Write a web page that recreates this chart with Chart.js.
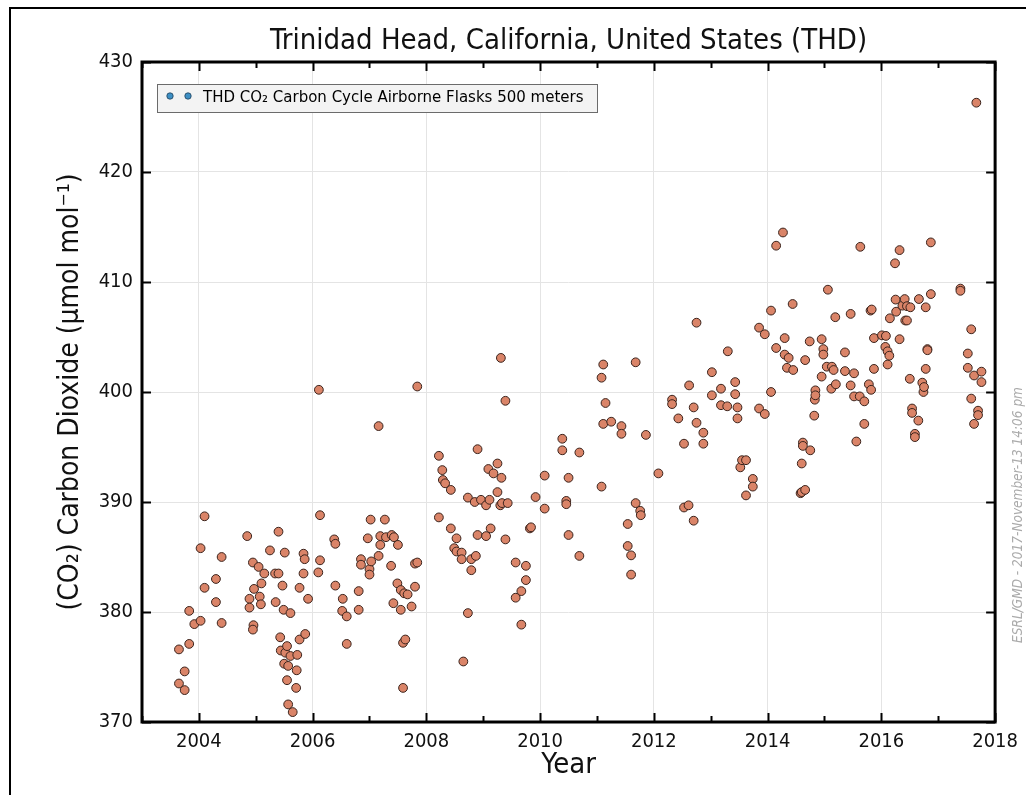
<!DOCTYPE html>
<html>
<head>
<meta charset="utf-8">
<title>Trinidad Head CO2</title>
<script src="https://cdn.jsdelivr.net/npm/chart.js@4.4.1/dist/chart.umd.min.js"></script>
<style>
  html, body { margin: 0; padding: 0; background: #ffffff; }
  #wrap { position: relative; width: 1026px; height: 795px; }
  canvas { display: block; }
</style>
</head>
<body>
<div id="wrap"><canvas id="chart" width="1026" height="795"></canvas></div>
<script>
// Flask sample dates (decimal year) and CO2 mole fractions (µmol/mol)
const sampleDates = [
  2003.65, 2003.65, 2003.75, 2003.75, 2003.83, 2003.83, 2003.92, 2004.03, 2004.03, 2004.10,
  2004.10, 2004.30, 2004.30, 2004.40, 2004.40, 2004.85, 2004.89, 2004.89, 2004.95, 2004.96,
  2004.95, 2004.97, 2005.05, 2005.07, 2005.09, 2005.10, 2005.15, 2005.25, 2005.34, 2005.35,
  2005.40, 2005.40, 2005.43, 2005.44, 2005.47, 2005.49, 2005.50, 2005.51, 2005.52, 2005.55,
  2005.55, 2005.57, 2005.57, 2005.61, 2005.61, 2005.65, 2005.71, 2005.72, 2005.73, 2005.77,
  2005.77, 2005.84, 2005.84, 2005.86, 2005.87, 2005.92, 2006.10, 2006.11, 2006.13, 2006.13,
  2006.38, 2006.40, 2006.40,
  2006.53, 2006.52, 2006.60, 2006.60, 2006.81, 2006.81, 2006.85, 2006.85, 2006.97, 2007.00,
  2007.00, 2007.02, 2007.03, 2007.16, 2007.16, 2007.19, 2007.19, 2007.27, 2007.29, 2007.38,
  2007.39, 2007.42, 2007.43, 2007.49, 2007.50, 2007.55, 2007.55, 2007.59, 2007.59, 2007.61,
  2007.63, 2007.67, 2007.74, 2007.80, 2007.80, 2007.84, 2007.84,
  2008.22, 2008.22, 2008.28, 2008.29, 2008.33, 2008.43, 2008.43, 2008.49, 2008.53, 2008.53,
  2008.62, 2008.62, 2008.65, 2008.73, 2008.73, 2008.79, 2008.79, 2008.85, 2008.87, 2008.90,
  2008.90, 2008.96, 2009.05, 2009.05, 2009.09, 2009.11, 2009.13, 2009.18, 2009.25, 2009.25,
  2009.30, 2009.32, 2009.33, 2009.39, 2009.39, 2009.43, 2009.57, 2009.57, 2009.31,
  2009.67, 2009.67, 2009.75, 2009.75, 2009.82, 2009.84, 2009.92,
  2010.08, 2010.08, 2010.39, 2010.39, 2010.46, 2010.46, 2010.50, 2010.50, 2010.69, 2010.69,
  2011.08, 2011.08, 2011.11, 2011.11, 2011.15, 2011.25, 2011.43, 2011.43, 2011.54, 2011.54,
  2011.60, 2011.60, 2011.68, 2011.68, 2011.76, 2011.77, 2011.86,
  2012.08, 2012.32, 2012.32, 2012.43, 2012.53, 2012.53, 2012.61, 2012.62, 2012.70, 2012.70,
  2012.75, 2012.75, 2012.87, 2012.87,
  2013.02, 2013.02, 2013.18, 2013.18, 2013.29, 2013.30, 2013.43, 2013.43, 2013.47, 2013.47,
  2013.52, 2013.55, 2013.62, 2013.62, 2013.74, 2013.74, 2013.85, 2013.85, 2013.95, 2013.95,
  2014.06, 2014.06, 2014.15, 2014.15, 2014.27, 2014.30, 2014.30, 2014.34, 2014.37, 2014.44,
  2014.45, 2014.58, 2014.60, 2014.60, 2014.62, 2014.62, 2014.66, 2014.66, 2014.74, 2014.75,
  2014.82, 2014.83, 2014.84, 2014.84, 2014.95, 2014.95, 2014.98, 2014.98,
  2015.04, 2015.06, 2015.12, 2015.13, 2015.16, 2015.19, 2015.20, 2015.36, 2015.36, 2015.46,
  2015.46, 2015.52, 2015.52, 2015.56, 2015.62, 2015.63, 2015.70, 2015.70, 2015.78, 2015.81,
  2015.82, 2015.83, 2015.87, 2015.87,
  2016.01, 2016.07, 2016.08, 2016.11, 2016.11, 2016.14, 2016.15, 2016.24, 2016.25, 2016.26,
  2016.32, 2016.32, 2016.37, 2016.41, 2016.42, 2016.45, 2016.45, 2016.50, 2016.51, 2016.54,
  2016.54, 2016.59, 2016.59, 2016.65, 2016.66, 2016.72, 2016.74, 2016.75, 2016.78, 2016.78,
  2016.81, 2016.81, 2016.87, 2016.87,
  2017.39, 2017.39, 2017.52, 2017.52, 2017.58, 2017.58, 2017.63, 2017.63, 2017.67, 2017.70,
  2017.70, 2017.76, 2017.76
];

const co2Values = [
  376.6, 373.5, 374.6, 372.9, 377.1, 380.1, 378.9, 379.2, 385.8, 382.2,
  388.7, 383.0, 380.9, 385.0, 379.0, 386.9, 381.2, 380.4, 384.5, 378.8,
  378.4, 382.1, 384.1, 381.4, 380.7, 382.6, 383.5, 385.6, 383.5, 380.9,
  387.3, 383.5, 377.7, 376.5, 382.4, 380.2, 375.3, 385.4, 376.3, 376.9,
  373.8, 375.1, 371.6, 379.9, 376.0, 370.9, 373.1, 374.7, 376.1, 382.2,
  377.5, 385.3, 383.5, 384.8, 378.0, 381.2, 383.6, 400.2, 388.8, 384.7,
  386.6, 386.2, 382.4,
  381.2, 380.1, 379.6, 377.1, 381.9, 380.2, 384.8, 384.3, 386.7, 383.9,
  383.4, 388.4, 384.6, 385.1, 396.9, 386.9, 386.1, 388.4, 386.8, 384.2,
  387.0, 380.8, 386.8, 382.6, 386.1, 382.0, 380.2, 377.2, 373.1, 381.7,
  377.5, 381.6, 380.5, 382.3, 384.4, 384.5, 400.5,
  394.2, 388.6, 392.9, 392.0, 391.7, 391.1, 387.6, 385.8, 386.7, 385.5,
  385.4, 384.8, 375.5, 390.4, 379.9, 384.8, 383.8, 390.0, 385.1, 394.8,
  387.0, 390.2, 389.7, 386.9, 393.0, 390.2, 387.6, 392.6, 393.5, 390.9,
  389.7, 392.2, 389.9, 399.2, 386.6, 389.9, 384.5, 381.3, 403.1,
  381.9, 378.85, 384.2, 382.9, 387.6, 387.7, 390.45,
  392.4, 389.4, 395.75, 394.7, 390.1, 389.8, 392.2, 387.0, 394.5, 385.1,
  401.3, 391.4, 402.5, 397.1, 399.0, 397.3, 396.9, 396.2, 388.0, 386.0,
  385.15, 383.4, 402.7, 389.9, 389.2, 388.8, 396.1,
  392.6, 399.3, 398.9, 397.6, 395.3, 389.5, 389.7, 400.6, 398.6, 388.3,
  406.3, 397.2, 396.3, 395.3,
  401.8, 399.7, 400.3, 398.8, 398.7, 403.7, 400.9, 399.8, 398.6, 397.6,
  393.15, 393.8, 393.8, 390.6, 392.1, 391.4, 405.85, 398.5, 405.25, 398.0,
  407.4, 400.0, 413.3, 404.0, 414.5, 404.9, 403.4, 402.2, 403.1, 408.0,
  402.0, 390.8, 393.5, 390.9, 395.4, 395.1, 402.9, 391.1, 404.6, 394.7,
  397.85, 399.3, 400.15, 399.7, 404.8, 401.4, 403.9, 403.4,
  402.3, 409.3, 400.3, 402.3, 402.0, 406.8, 400.7, 403.6, 401.9, 407.1,
  400.6, 401.7, 399.6, 395.5, 399.6, 413.2, 399.15, 397.1, 400.7, 407.4,
  400.2, 407.5, 404.9, 402.1,
  405.15, 404.1, 405.1, 403.7, 402.5, 403.3, 406.7, 411.7, 408.4, 407.3,
  412.9, 404.8, 407.85, 408.45, 406.5, 407.8, 406.5, 401.2, 407.7, 398.5,
  398.1, 396.2, 395.9, 397.4, 408.45, 400.85, 400.0, 400.45, 407.7, 402.1,
  403.9, 403.8, 413.6, 408.9,
  409.4, 409.2, 403.5, 402.2, 405.7, 399.4, 401.5, 397.1, 426.3, 398.3,
  397.9, 401.85, 400.9
];

// Axis tick labels
const xTickYears = [2004, 2006, 2008, 2010, 2012, 2014, 2016, 2018];
const yTickValues = [370, 380, 390, 400, 410, 420, 430];

const chartTitle = 'Trinidad Head, California, United States (THD)';
const seriesLabel = 'THD CO\u2082 Carbon Cycle Airborne Flasks 500 meters';
const xAxisTitle = 'Year';
const yAxisTitle = '(CO\u2082) Carbon Dioxide (\u03bcmol mol\u207b\u00b9)';
const stampText = 'ESRL/GMD - 2017-November-13 14:06 pm';

const FONT = '"DejaVu Sans Condensed", "DejaVu Sans", sans-serif';
const FONT_WIDE = '"DejaVu Sans", sans-serif';

// Title, frame, inward ticks, legend box and time stamp
const decorations = {
  id: 'decorations',
  afterDraw(chart) {
    const { ctx, chartArea: a, scales: { x, y } } = chart;
    ctx.save();

    // title centred over the plotting area
    ctx.fillStyle = '#111';
    ctx.font = '29px ' + FONT;
    ctx.textAlign = 'center';
    ctx.textBaseline = 'middle';
    ctx.fillText(chartTitle, (a.left + a.right) / 2, 41);

    // figure outline
    ctx.strokeStyle = '#000';
    ctx.lineWidth = 2;
    ctx.beginPath();
    ctx.moveTo(10, 795);
    ctx.lineTo(10, 8);
    ctx.lineTo(1026, 8);
    ctx.stroke();

    // inward ticks on all four sides
    ctx.lineWidth = 2;
    ctx.beginPath();
    for (let yr = Math.ceil(x.min); yr <= x.max; yr++) {
      const px = Math.round(x.getPixelForValue(yr)) + 0.5;
      const len = xTickYears.includes(yr) ? 9 : 6;
      ctx.moveTo(px, a.bottom); ctx.lineTo(px, a.bottom - len);
      ctx.moveTo(px, a.top); ctx.lineTo(px, a.top + len);
    }
    for (const v of yTickValues) {
      const py = Math.round(y.getPixelForValue(v)) + 0.5;
      ctx.moveTo(a.left, py); ctx.lineTo(a.left + 9, py);
      ctx.moveTo(a.right, py); ctx.lineTo(a.right - 9, py);
    }
    ctx.stroke();

    // plot frame
    ctx.lineWidth = 3;
    ctx.strokeRect(a.left, a.top, a.right - a.left, a.bottom - a.top);

    // legend
    const lx = a.left + 15, ly = a.top + 22, lw = 440, lh = 28;
    ctx.fillStyle = '#f3f3f3';
    ctx.fillRect(lx, ly, lw, lh);
    ctx.strokeStyle = '#6b6b6b';
    ctx.lineWidth = 1;
    ctx.strokeRect(lx + 0.5, ly + 0.5, lw, lh);
    for (const dx of [13, 31]) {
      ctx.beginPath();
      ctx.arc(lx + dx, ly + 12, 3.2, 0, Math.PI * 2);
      ctx.fillStyle = '#3d8fc4';
      ctx.fill();
      ctx.strokeStyle = '#20405a';
      ctx.lineWidth = 0.8;
      ctx.stroke();
    }
    ctx.fillStyle = '#000';
    ctx.font = '15px ' + FONT_WIDE;
    ctx.textBaseline = 'middle';
    ctx.textAlign = 'left';
    ctx.fillText(chart.data.datasets[0].label, lx + 46, ly + 14);

    // time stamp along the right margin
    ctx.translate(1018, 515);
    ctx.rotate(-Math.PI / 2);
    ctx.fillStyle = '#ababab';
    ctx.font = 'italic 13.5px ' + FONT;
    ctx.textAlign = 'center';
    ctx.fillText(stampText, 0, 0);
    ctx.restore();
  }
};

new Chart(document.getElementById('chart'), {
  type: 'scatter',
  data: {
    datasets: [{
      label: seriesLabel,
      data: sampleDates.map((d, i) => ({ x: d, y: co2Values[i] })),
      backgroundColor: '#da8468',
      borderColor: '#3a231c',
      borderWidth: 1,
      pointRadius: 4.4,
      pointHoverRadius: 4.4
    }]
  },
  options: {
    responsive: false,
    animation: false,
    devicePixelRatio: 1,
    layout: { padding: { left: 54, right: 29, top: 62, bottom: 12 } },
    plugins: {
      legend: { display: false },
      tooltip: { enabled: false },
      title: { display: false }
    },
    scales: {
      x: {
        type: 'linear',
        min: 2003,
        max: 2018,
        afterBuildTicks: s => { s.ticks = xTickYears.map(v => ({ value: v })); },
        afterFit: s => { s.height = 61; },
        ticks: {
          callback: v => String(v),
          color: '#111',
          font: { family: FONT, size: 20 },
          padding: 8,
          maxRotation: 0
        },
        grid: { color: '#e4e4e4', lineWidth: 1, drawTicks: false },
        border: { display: false },
        title: {
          display: true,
          text: xAxisTitle,
          color: '#111',
          font: { family: FONT, size: 29 },
          padding: 0
        }
      },
      y: {
        type: 'linear',
        min: 370,
        max: 430,
        afterBuildTicks: s => { s.ticks = yTickValues.map(v => ({ value: v })); },
        afterFit: s => { s.width = 88; },
        ticks: {
          callback: v => String(v),
          color: '#111',
          font: { family: FONT, size: 20 },
          padding: 9
        },
        grid: { color: '#e4e4e4', lineWidth: 1, drawTicks: false },
        border: { display: false },
        title: {
          display: true,
          text: yAxisTitle,
          color: '#111',
          font: { family: FONT, size: 28 },
          padding: 0
        }
      }
    }
  },
  plugins: [decorations]
});
</script>
</body>
</html>
